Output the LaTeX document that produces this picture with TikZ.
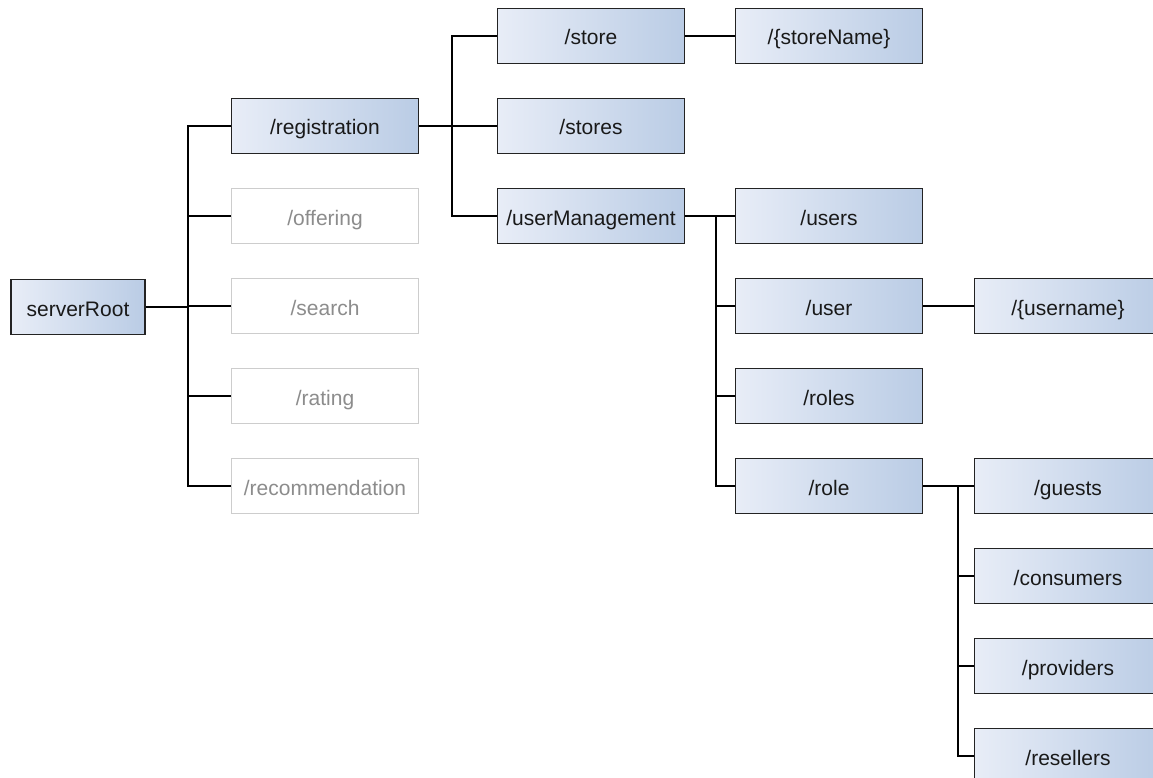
\documentclass[tikz,border=0pt]{standalone}
\usepackage{fontspec}
\setmainfont{Liberation Sans}
\usetikzlibrary{calc}
\definecolor{boxleft}{RGB}{232,237,247}
\definecolor{boxright}{RGB}{186,204,229}
\definecolor{boxedge}{RGB}{35,35,35}
\definecolor{ghostedge}{RGB}{205,205,205}
\definecolor{ghosttext}{RGB}{140,140,140}
\definecolor{inktext}{RGB}{25,25,25}
\begin{document}
\begin{tikzpicture}[x=1pt,y=-1pt,
  labeltext/.style={font=\fontsize{21}{25}\selectfont, text height=19pt, text depth=1pt},
  res/.style={draw=boxedge, line width=1.4pt, left color=boxleft, right color=boxright,
    minimum width=187pt, minimum height=55pt, inner sep=0pt,
    text=inktext, labeltext},
  ghost/.style={draw=ghostedge, line width=1.2pt, fill=white,
    minimum width=187pt, minimum height=55pt, inner sep=0pt,
    text=ghosttext, labeltext},
  link/.style={draw=black, line width=1.4pt}]
\useasboundingbox (0,0) rectangle (1153,778);
\clip (0,0) rectangle (1153,778);

% root
\node[res, minimum width=134pt] (root) at (78,307) {serverRoot};

% first level
\node[res]   (registration)   at (325,126) {/registration};
\node[ghost] (offering)       at (325,216) {/offering};
\node[ghost] (search)         at (325,306) {/search};
\node[ghost] (rating)         at (325,396) {/rating};
\node[ghost] (recommendation) at (325,486) {/recommendation};

% registration children
\node[res] (store)    at (591,36)  {/store};
\node[res] (stores)   at (591,126) {/stores};
\node[res] (userMgmt) at (591,216) {/userManagement};
\node[res] (storeName) at (829,36) {/\{storeName\}};

% user management children
\node[res] (users) at (829,216) {/users};
\node[res] (user)  at (829,306) {/user};
\node[res] (roles) at (829,396) {/roles};
\node[res] (role)  at (829,486) {/role};
\node[res] (username) at (1068,306) {/\{username\}};

% role children
\node[res] (guests)    at (1068,486) {/guests};
\node[res] (consumers) at (1068,576) {/consumers};
\node[res] (providers) at (1068,666) {/providers};
\node[res] (resellers) at (1068,756) {/resellers};

% branch points
\coordinate (j0) at (188,307);
\coordinate (j1) at (452,126);
\coordinate (j2) at (716,216);
\coordinate (j3) at (958,486);

% connectors
\draw[link] (root.east) -- (j0);
\foreach \c in {registration,offering,search,rating,recommendation}
  \draw[link] (j0) |- (\c.west);
\draw[link, line width=2.8pt] (j0) -- (j0 |- rating.west);

\draw[link] (registration.east) -- (j1);
\foreach \c in {store,stores,userMgmt}
  \draw[link] (j1) |- (\c.west);
\draw[link] (store.east) -- (storeName.west);

\draw[link] (userMgmt.east) -- (j2);
\foreach \c in {users,user,roles,role}
  \draw[link] (j2) |- (\c.west);
\draw[link] (user.east) -- (username.west);

\draw[link] (role.east) -- (j3);
\foreach \c in {guests,consumers,providers,resellers}
  \draw[link] (j3) |- (\c.west);
\end{tikzpicture}
\end{document}
